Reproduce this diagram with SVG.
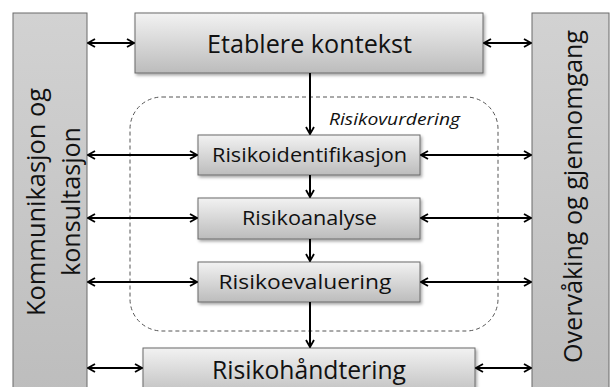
<svg xmlns="http://www.w3.org/2000/svg" width="612" height="387" viewBox="0 0 612 387">
<defs>
<linearGradient id="gBox" x1="0" y1="0" x2="0" y2="1">
<stop offset="0" stop-color="#f2f2f2"/>
<stop offset="1" stop-color="#bcbcbc"/>
</linearGradient>
<linearGradient id="gSide" x1="0" y1="0" x2="0" y2="1">
<stop offset="0" stop-color="#d2d2d2"/>
<stop offset="1" stop-color="#bdbdbd"/>
</linearGradient>
<filter id="sh" x="-10%" y="-10%" width="130%" height="140%">
<feDropShadow dx="1.5" dy="2" stdDeviation="1.5" flood-color="#000" flood-opacity="0.35"/>
</filter>
<marker id="ah" viewBox="0 0 10 10" refX="9" refY="5" markerWidth="10" markerHeight="10" markerUnits="userSpaceOnUse" orient="auto-start-reverse">
<path d="M2,1 L9,5 L2,9" fill="none" stroke="#000" stroke-width="1.8"/>
</marker>
</defs>
<style>
.box{fill:url(#gBox);stroke:#6a6a6a;stroke-width:1;filter:url(#sh)}
.side{fill:url(#gSide);stroke:#6a6a6a;stroke-width:1}
.t{font-family:"Open Sans","Liberation Sans",Arial,sans-serif;fill:#111;text-anchor:middle}
.big{font-size:26px}
.mid{font-size:20px}
.lk{stroke:#000;stroke-width:2;fill:none}
.arr{marker-end:url(#ah)}
.dbl{marker-start:url(#ah);marker-end:url(#ah)}
</style>
<rect width="612" height="387" fill="#fff"/>
<g id="scope">
<rect x="130" y="97" width="368" height="234" rx="32" ry="32" fill="none" stroke="#555" stroke-width="1" stroke-dasharray="4,3"/>
<text x="329" y="125" font-family="'Open Sans','Liberation Sans',Arial,sans-serif" font-style="italic" font-size="17" fill="#111" textLength="131" lengthAdjust="spacingAndGlyphs">Risikovurdering</text>
</g>
<g id="komm">
<rect class="side" x="13" y="13" width="74" height="380"/>
<text class="t big" transform="translate(45,202) rotate(-90)" font-size="27" textLength="228" lengthAdjust="spacingAndGlyphs">Kommunikasjon og</text>
<text class="t big" transform="translate(80,201.5) rotate(-90)" font-size="27" textLength="149" lengthAdjust="spacingAndGlyphs">konsultasjon</text>
</g>
<g id="overv">
<rect class="side" x="532" y="13" width="77" height="380"/>
<text class="t big" transform="translate(582,196.5) rotate(-90)" textLength="333" lengthAdjust="spacingAndGlyphs">Overvåking og gjennomgang</text>
</g>
<g id="etablere">
<rect class="box" x="135" y="13" width="348" height="60"/>
<text class="t big" x="309.5" y="53" textLength="205" lengthAdjust="spacingAndGlyphs">Etablere kontekst</text>
</g>
<g id="ident">
<rect class="box" x="198" y="135" width="222" height="40"/>
<text class="t mid" x="309.5" y="162" textLength="195" lengthAdjust="spacingAndGlyphs">Risikoidentifikasjon</text>
</g>
<g id="analyse">
<rect class="box" x="198" y="198" width="222" height="41"/>
<text class="t mid" x="309.5" y="225" textLength="135" lengthAdjust="spacingAndGlyphs">Risikoanalyse</text>
</g>
<g id="evaluering">
<rect class="box" x="198" y="262" width="222" height="40"/>
<text class="t mid" x="305" y="289" textLength="173" lengthAdjust="spacingAndGlyphs">Risikoevaluering</text>
</g>
<g id="handtering">
<rect class="box" x="143" y="348" width="332" height="50"/>
<text class="t big" x="309" y="379" textLength="194" lengthAdjust="spacingAndGlyphs">Risikohåndtering</text>
</g>
<g id="connectors">
<line class="lk arr" x1="310" y1="73" x2="310" y2="134"/>
<line class="lk arr" x1="310" y1="175" x2="310" y2="197"/>
<line class="lk arr" x1="310" y1="239" x2="310" y2="261"/>
<line class="lk arr" x1="310" y1="302" x2="310" y2="347"/>
<line class="lk dbl" x1="88" y1="43" x2="134" y2="43"/>
<line class="lk dbl" x1="484" y1="43" x2="531" y2="43"/>
<line class="lk dbl" x1="88" y1="155" x2="197" y2="155"/>
<line class="lk dbl" x1="421" y1="155" x2="531" y2="155"/>
<line class="lk dbl" x1="88" y1="218" x2="197" y2="218"/>
<line class="lk dbl" x1="421" y1="218" x2="531" y2="218"/>
<line class="lk dbl" x1="88" y1="282" x2="197" y2="282"/>
<line class="lk dbl" x1="421" y1="282" x2="531" y2="282"/>
<line class="lk dbl" x1="88" y1="368" x2="142" y2="368"/>
<line class="lk dbl" x1="476" y1="368" x2="531" y2="368"/>
</g>
</svg>
